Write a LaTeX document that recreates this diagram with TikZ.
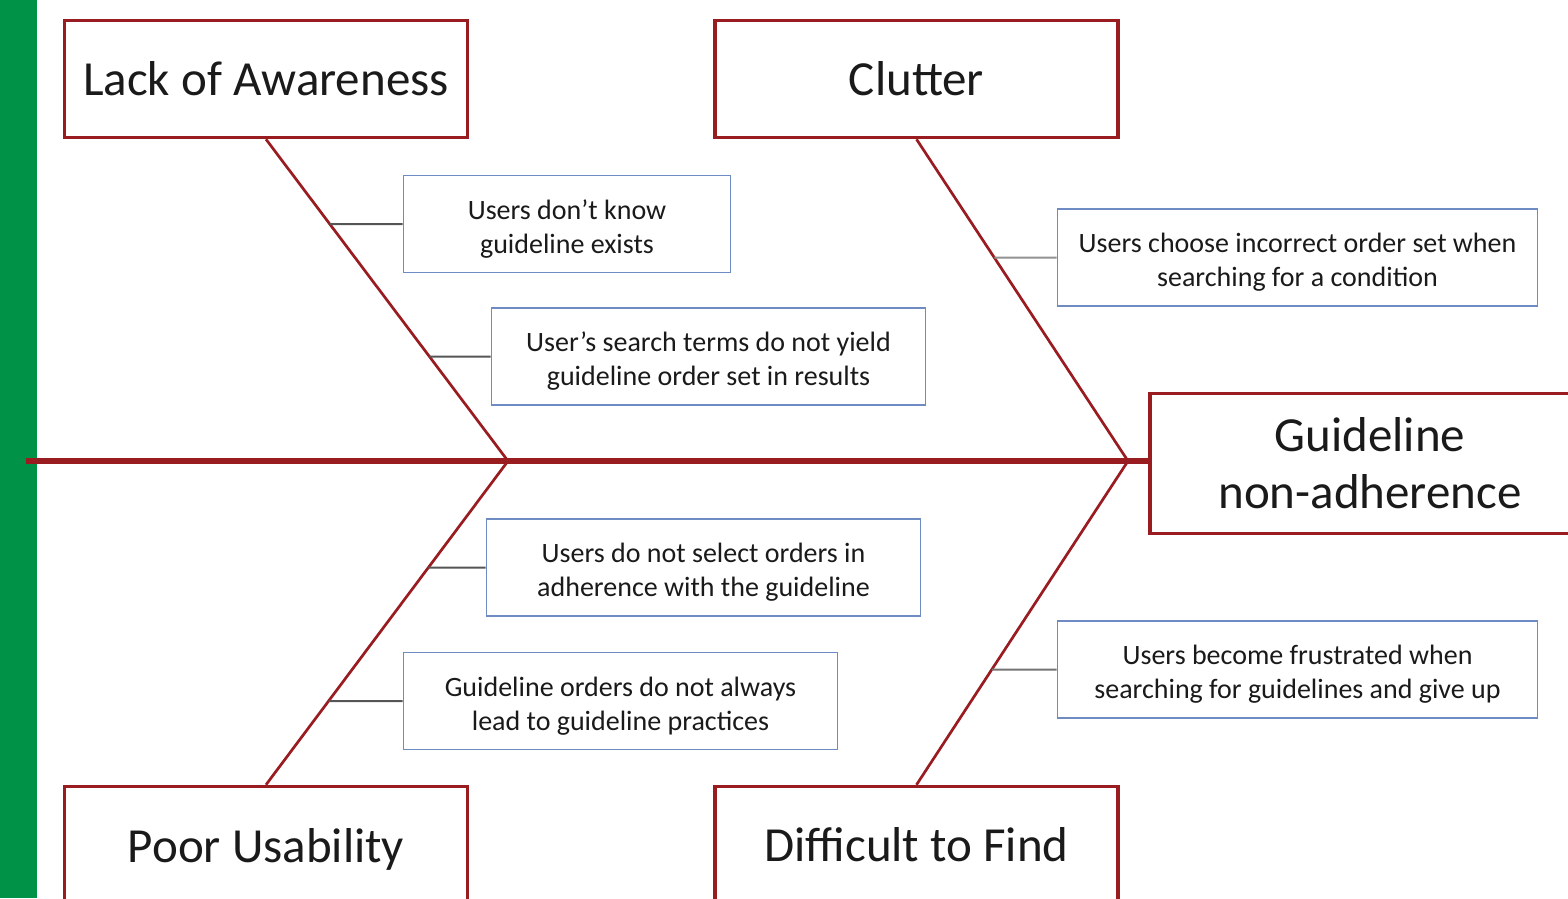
\documentclass[tikz,border=0pt]{standalone}
\usepackage{fontspec}
\setmainfont{Carlito}
\usetikzlibrary{calc}
\definecolor{bonered}{RGB}{152,28,32}
\definecolor{sidegreen}{RGB}{0,146,70}
\definecolor{causeblue}{RGB}{110,140,195}
\definecolor{inktext}{RGB}{26,26,26}
\definecolor{stubdark}{RGB}{85,85,85}
\definecolor{stubmid}{RGB}{115,115,115}
\definecolor{stublight}{RGB}{145,145,145}
\begin{document}
\begin{tikzpicture}[x=1pt,y=-1pt,
  category/.style={draw=bonered,line width=3.5pt,fill=white,minimum width=403pt,minimum height=117pt,
    inner sep=0pt,text=inktext,font=\fontsize{49}{57}\selectfont,align=center},
  cause/.style={draw=causeblue,line width=1.6pt,fill=white,inner sep=0pt,text=inktext,
    font=\fontsize{28}{34}\selectfont,align=center,minimum height=97pt,
    text height=60pt,text depth=2pt},
  bone/.style={draw=bonered,line width=2.7pt},
  stub/.style={line width=2pt}]
\useasboundingbox (0,0) rectangle (1568,898);
\clip (0,0) rectangle (1568,898);

% left margin band
\fill[sidegreen] (0,0) rectangle (37,898);

% junctions on the spine
\coordinate (J1) at (508,461);
\coordinate (J2) at (1128,461);
\coordinate (tail) at (26,461);

% category boxes
\node[category] (aware) at (266,79) {Lack of Awareness};
\node[category] (clutter) at (916.5,79) {Clutter};
\node[category,text depth=0pt] (usab) at (266,845) {Poor Usability};
\node[category] (find) at (916.5,845) {Difficult to Find};
\node[category,minimum width=440pt,minimum height=140pt] (effect) at (1370,463.5) {Guideline\\non-adherence};

% spine and bones
\draw[draw=bonered,line width=6pt] (tail) -- (tail -| effect.west);
\draw[bone] (aware.south) -- (J1);
\draw[bone] (J1) -- (usab.north);
\draw[bone] (clutter.south) -- (J2);
\draw[bone] (J2) -- (find.north);

% causes
\node[cause,minimum width=327pt] (c1) at (567,224) {Users don’t know\\guideline exists};
\node[cause,minimum width=434pt] (c2) at (708.5,356.5) {User’s search terms do not yield\\guideline order set in results};
\node[cause,minimum width=480pt] (c3) at (1297.5,257.5) {Users choose incorrect order set when\\searching for a condition};
\node[cause,minimum width=434pt] (c4) at (703.5,567.5) {Users do not select orders in\\adherence with the guideline};
\node[cause,minimum width=434pt] (c5) at (620.5,701) {Guideline orders do not always\\lead to guideline practices};
\node[cause,minimum width=480pt] (c6) at (1297.5,669.5) {Users become frustrated when\\searching for guidelines and give up};

% stubs joining causes to their bones
\draw[stub,stubdark] (c1.west) -- (intersection of aware.south--J1 and c1.west--c1.east);
\draw[stub,stubdark] (c2.west) -- (intersection of aware.south--J1 and c2.west--c2.east);
\draw[stub,stublight] (c3.west) -- (intersection of clutter.south--J2 and c3.west--c3.east);
\draw[stub,stubdark] (c4.west) -- (intersection of J1--usab.north and c4.west--c4.east);
\draw[stub,stubdark] (c5.west) -- (intersection of J1--usab.north and c5.west--c5.east);
\draw[stub,stubmid] (c6.west) -- (intersection of J2--find.north and c6.west--c6.east);
\end{tikzpicture}
\end{document}
